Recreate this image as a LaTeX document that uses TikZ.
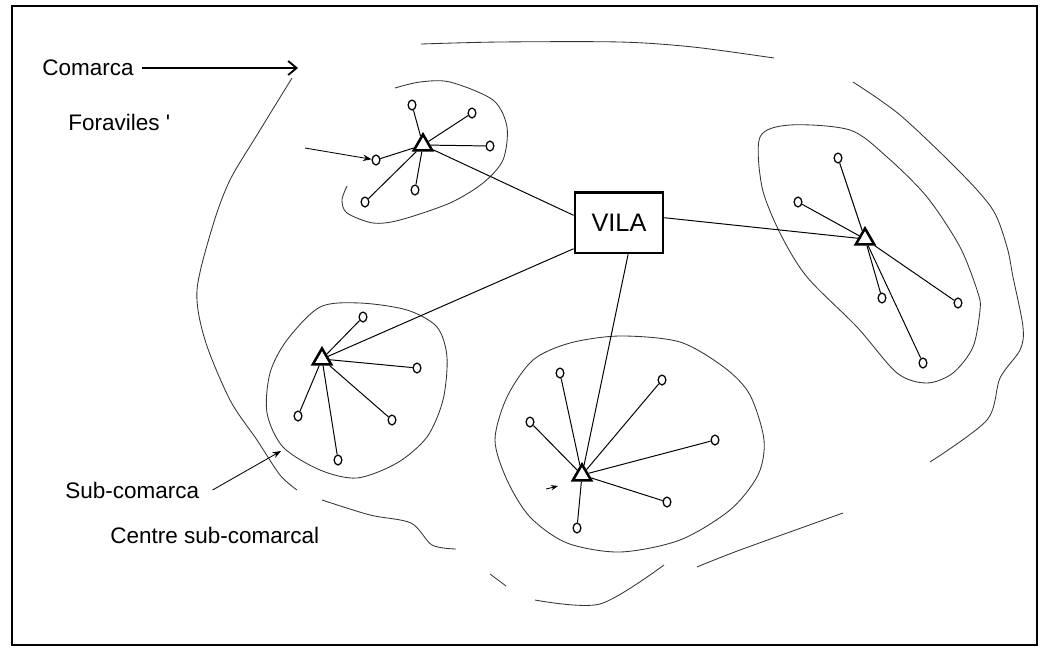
\documentclass[tikz,border=0pt]{standalone}
\usepackage{fontspec}
\setmainfont{Liberation Sans}
\usetikzlibrary{shapes.geometric,arrows.meta}

\tikzset{
  foravila/.style={ellipse,draw,line width=0.9pt,inner sep=0pt,minimum width=5.5pt,minimum height=7pt},
  centre/.style={regular polygon,regular polygon sides=3,draw,line width=1.8pt,inner sep=0pt,minimum size=15pt},
  spoke/.style={line width=0.7pt},
  zone/.style={line width=0.6pt,black!80},
  rotul/.style={font=\fontsize{16}{19}\selectfont,anchor=west,inner sep=0pt}
}

\begin{document}
\begin{tikzpicture}[x=0.025cm,y=-0.025cm]
\useasboundingbox (0,0) rectangle (1047,647);
\draw[line width=2pt] (12,6) rectangle (1037,645);

% comarca
\draw[zone] plot[smooth] coordinates {(292,78) (257,135) (230,180) (213,225) (197,290) (205,340) (230,400) (257,440) (280,475) (297,490)};
\draw[zone] plot[smooth] coordinates {(322,500) (370,515) (411,523) (432,545) (456,549)};
\draw[zone] plot[smooth] coordinates {(490,574) (506,586)};
\draw[zone] plot[smooth] coordinates {(535,600) (600,604) (664,565)};
\draw[zone] plot[smooth] coordinates {(697,567) (740,550) (843,513)};
\draw[zone] plot[smooth] coordinates {(930,462) (987,420) (1000,378) (1020,350) (1023,327) (1013,277) (1007,247) (993,210) (960,172) (900,115) (853,82)};
\draw[zone] plot[smooth] coordinates {(774,58) (693,47) (620,42) (500,42) (421,44)};

% sub-comarques
\draw[zone] plot[smooth] coordinates {(347,186) (342,200) (347,213) (373,223) (400,220) (450,203) (483,183) (503,160) (507,127) (493,100) (450,82) (420,82) (395,88)};
\draw[zone] plot[smooth cycle] coordinates {(760,137) (790,125) (850,130) (887,157) (927,197) (960,247) (978,293) (980,310) (973,347) (953,373) (927,383) (897,373) (857,327) (807,277) (780,233) (762,187)};
\draw[zone] plot[smooth cycle] coordinates {(320,307) (360,303) (407,310) (437,327) (447,357) (443,400) (427,437) (397,463) (357,478) (320,470) (283,447) (267,413) (270,373) (287,340)};
\draw[zone] plot[smooth cycle] coordinates {(533,360) (507,397) (495,440) (507,480) (530,517) (567,543) (620,552) (680,540) (730,510) (758,475) (764,440) (750,395) (725,368) (680,342) (620,336) (570,343)};

% vila
\node[draw,line width=2pt,minimum width=2.2cm,minimum height=1.52cm,font=\fontsize{18}{21}\selectfont] at (619,222.5) (vila) {VILA};

% foraviles
\node[foravila] at (412,105) (f11) {};
\node[foravila] at (472,113) (f12) {};
\node[foravila] at (490,146) (f13) {};
\node[foravila] at (376,160) (f14) {};
\node[foravila] at (415,190) (f15) {};
\node[foravila] at (365,202) (f16) {};

\node[foravila] at (363,317) (f21) {};
\node[foravila] at (417,368) (f22) {};
\node[foravila] at (298,416) (f23) {};
\node[foravila] at (392,420) (f24) {};
\node[foravila] at (338,460) (f25) {};

\node[foravila] at (560,373) (f31) {};
\node[foravila] at (662,380) (f32) {};
\node[foravila] at (530,422) (f33) {};
\node[foravila] at (715,440) (f34) {};
\node[foravila] at (667,502) (f35) {};
\node[foravila] at (577,528) (f36) {};

\node[foravila] at (838,158) (f41) {};
\node[foravila] at (798,202) (f42) {};
\node[foravila] at (882,298) (f43) {};
\node[foravila] at (958,303) (f44) {};
\node[foravila] at (923,363) (f45) {};

% centres sub-comarcals
\node[centre] at (423,145) (c1) {}
  edge[spoke] (f11) edge[spoke] (f12) edge[spoke] (f13)
  edge[spoke] (f14) edge[spoke] (f15) edge[spoke] (f16);
\node[centre] at (322,359) (c2) {}
  edge[spoke] (f21) edge[spoke] (f22) edge[spoke] (f23)
  edge[spoke] (f24) edge[spoke] (f25);
\node[centre] at (582,475) (c3) {}
  edge[spoke] (f31) edge[spoke] (f32) edge[spoke] (f33)
  edge[spoke] (f34) edge[spoke] (f35) edge[spoke] (f36);
\node[centre] at (865,239) (c4) {}
  edge[spoke] (f41) edge[spoke] (f42) edge[spoke] (f43)
  edge[spoke] (f44) edge[spoke] (f45);

\draw[spoke] (vila.171) -- (c1);
\draw[spoke] (vila.210) -- (c2);
\draw[spoke] (vila.-74) -- (c3);
\draw[spoke] (vila.6) -- (c4);

% rotuls
\node[rotul] at (42,68) (comarca) {Comarca};
\node[rotul] at (68,122) (foraviles) {Foraviles \textquotesingle};
\node[rotul] at (65,490) (subcomarca) {Sub-comarca};
\node[rotul] at (110,535) (centretxt) {Centre sub-comarcal};

\coordinate (comarcap) at (298,68);
\coordinate (foracua) at (305,148);
\coordinate (subcap) at (281,451);
\coordinate (centrecua) at (546,489);
\coordinate (centrecap) at (558,486);

\draw[line width=1.3pt,-{Straight Barb[length=6pt,width=10pt]}] ([xshift=0.2cm]comarca.east) -- (comarcap);
\draw[line width=0.6pt,-{Stealth[length=6pt]}] (foracua) -- (f14);
\draw[line width=0.6pt,-{Stealth[length=6pt]}] ([xshift=0.33cm]subcomarca.east) -- (subcap);
\draw[line width=0.6pt,-{Stealth[length=5pt]}] (centrecua) -- (centrecap);
\end{tikzpicture}
\end{document}
